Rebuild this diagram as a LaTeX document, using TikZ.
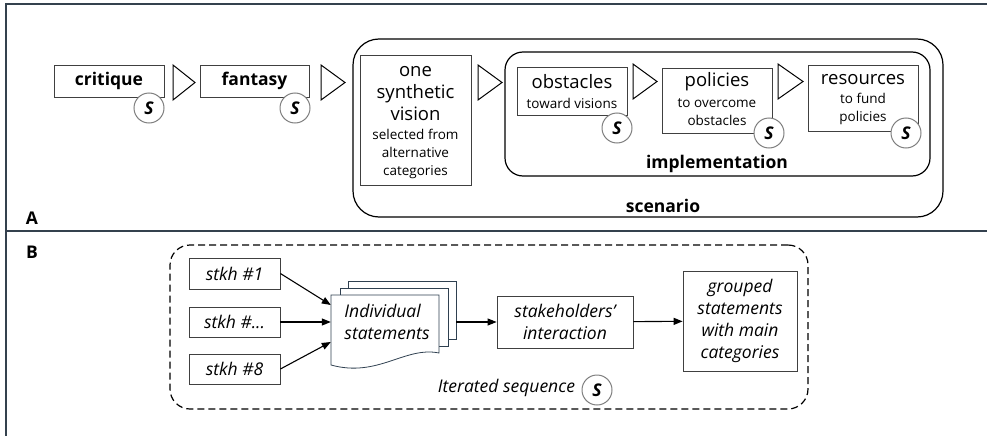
\documentclass[tikz,border=0pt]{standalone}
\usepackage{fontspec}
\setmainfont{Open Sans}
\usetikzlibrary{arrows.meta}
\definecolor{framecol}{HTML}{34414E}
\definecolor{sgray}{HTML}{7F7F7F}
\definecolor{pagecol}{HTML}{2F4050}
\tikzset{
  box/.style={draw=black!75, line width=0.8pt, fill=white, inner sep=0pt},
  roundbox/.style={draw=black, line width=1.2pt, inner sep=0pt},
  tri/.style={draw=black, line width=1pt, fill=white, line join=miter},
  sbadge/.style={circle, draw=sgray, line width=1pt, fill=white, minimum size=30pt,
    inner sep=0pt, font=\fontsize{17.5}{17.5}\selectfont\bfseries\itshape},
  title/.style={font=\fontsize{18.5}{22}\selectfont, align=center},
  sub/.style={font=\fontsize{13.5}{18}\selectfont, align=center},
  boldtxt/.style={font=\fontsize{17.5}{20}\selectfont\bfseries},
  itbox/.style={draw=black!75, line width=0.8pt, fill=white, inner sep=0pt,
    font=\fontsize{17.5}{22}\selectfont\itshape, align=center},
  page/.style={draw=pagecol, line width=0.8pt, fill=white, inner sep=0pt},
  flow/.style={-{Triangle[length=9pt,width=7pt]}, line width=1.1pt}
}
\begin{document}
\begin{tikzpicture}[x=1pt,y=-1pt]
      \useasboundingbox (0,0) rectangle (987,436);
      \draw[framecol, line width=1.6pt] (987,4) -- (6,4) -- (6,436);
      \draw[framecol, line width=2.2pt] (6,231) -- (987,231);
      \draw
        (648,128) node[roundbox, minimum width=590, minimum height=178, rounded corners=26] (scen) {}
        (717.5,114) node[roundbox, minimum width=425, minimum height=124, rounded corners=18] (impl) {}
        (109,81) node[box, minimum width=110, minimum height=32, boldtxt] (crit) {critique}
        (254.5,81) node[box, minimum width=109, minimum height=32, boldtxt] (fant) {fantasy}
        (415.5,120) node[box, minimum width=111, minimum height=130] (vis) {}
        (572,91) node[box, minimum width=110, minimum height=48] (obst) {}
        (717,100.5) node[box, minimum width=110, minimum height=65] (pol) {}
        (863,98) node[box, minimum width=110, minimum height=66] (res) {};
      \draw
        (415.5,94) node[title] (vistitle) {one\\synthetic\\vision}
        (415.5,154) node[sub] (vissub) {selected from\\alternative\\categories}
        (572,82) node[title] (obsttitle) {obstacles}
        (572,103) node[sub] (obstsub) {toward visions}
        (717,82) node[title] (poltitle) {policies}
        (717,112) node[sub] (polsub) {to overcome\\obstacles}
        (863,80) node[title] (restitle) {resources}
        (863,109) node[sub] (ressub) {to fund\\policies}
        (717,164) node[boldtxt] (impllab) {implementation}
        (663,206) node[boldtxt] (scenlab) {scenario}
        (32,218) node[boldtxt] (parta) {A}
        (32,252) node[boldtxt] (partb) {B};
      \draw[tri] (173,65) -- (195,82.5) -- (173,100) -- cycle;
      \draw[tri] (321,65) -- (345,82.5) -- (321,100) -- cycle;
      \draw[tri] (478,65) -- (502,82.5) -- (478,100) -- cycle;
      \draw[tri] (633,64) -- (657,81.5) -- (633,99) -- cycle;
      \draw[tri] (778,64) -- (803,81.5) -- (778,99) -- cycle;
      \draw
        (149,108) node[sbadge] (scrit) {S}
        (295,108) node[sbadge] (sfant) {S}
        (617,128) node[sbadge] (sobst) {S}
        (769,133) node[sbadge] (spol) {S}
        (906,133) node[sbadge] (sres) {S};
      \draw
        (489,327) node[draw, dash pattern=on 7pt off 4pt, line width=1.2pt, rounded corners=20,
          minimum width=638, minimum height=164] (iter) {}
        (234.5,273.5) node[itbox, minimum width=91, minimum height=31] (st1) {stkh \#1}
        (234.5,322) node[itbox, minimum width=91, minimum height=30] (stx) {stkh \#...}
        (234.5,369) node[itbox, minimum width=91, minimum height=30] (st8) {stkh \#8}
        (402,310) node[page, minimum width=108, minimum height=58] (stpage3) {}
        (394,317) node[page, minimum width=108, minimum height=58] (stpage2) {};
      \filldraw[page] (331,295) -- (439,295) -- (439,353)
        .. controls (405,346) and (378,378) .. (331,365) -- cycle;
      \draw
        (387,322) node[minimum width=108, minimum height=58, inner sep=0pt,
          font=\fontsize{17.5}{22}\selectfont\itshape, align=left] (stmts) {Individual\\statements}
        (565,322) node[itbox, minimum width=136, minimum height=52] (inter) {stakeholders'\\interaction}
        (740,321) node[itbox, minimum width=114, minimum height=100] (grp) {grouped\\statements\\with main\\categories}
        (597,390) node[sbadge] (siter) {S}
        (siter.west) node[anchor=east, xshift=-3pt, yshift=2pt,
          font=\fontsize{17.5}{20}\selectfont\itshape] (iterlab) {Iterated sequence};
      \begin{scope}[flow]
        \draw (st1.east) to ([xshift=-2pt,yshift=17pt]stmts.west);
        \draw (stx.east) to ([xshift=-2pt]stmts.west);
        \draw (st8.east) to ([xshift=-2pt,yshift=-20pt]stmts.west);
        \draw (stmts -| stpage3.east) to (inter.west);
        \draw (inter) to (grp);
      \end{scope}
    \end{tikzpicture}
\end{document}
